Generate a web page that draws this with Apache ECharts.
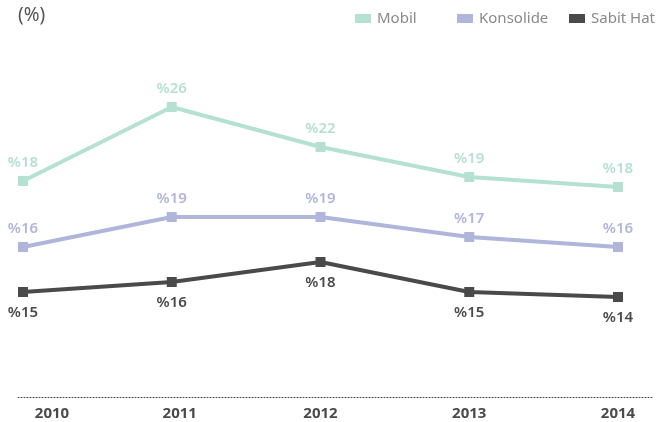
<!DOCTYPE html>
<html lang="tr">
<head>
  <meta charset="UTF-8">
  <title>mobil-konsolide-sabit</title>
  <script src="https://cdn.jsdelivr.net/npm/echarts@6/dist/echarts.min.js"></script>
  <style>
    html, body { margin: 0; padding: 0; background: #fff; }
    #main { width: 659px; height: 422px; }
  </style>
</head>
<body>
<div id="main"></div>
<script>
  // veriler
  var years = ['2010', '2011', '2012', '2013', '2014'];
  var mobil = [18.6, 26, 22, 19, 18];
  var konsolide = [16, 19, 19, 17, 16];
  var sabitHat = [15, 16, 18, 15, 14.5];
  var mobilLabels = ['%18', '%26', '%22', '%19', '%18'];
  var konsolideLabels = ['%16', '%19', '%19', '%17', '%16'];
  var sabitHatLabels = ['%15', '%16', '%18', '%15', '%14'];

  var mobilColor = '#b5e1d3';
  var konsolideColor = '#b0b5dc';
  var sabitColor = '#4a4a4a';
  var font = 'Noto Sans';

  var myChart = echarts.init(document.getElementById('main'));

  function lineSeries(name, data, labels, color, yIndex, pos, dist) {
    return {
      name: name,
      type: 'line',
      xAxisIndex: 0,
      yAxisIndex: yIndex,
      data: data,
      symbol: 'rect',
      symbolSize: 10,
      lineStyle: { color: color, width: 4 },
      itemStyle: { color: color },
      label: {
        show: true,
        position: pos,
        distance: dist,
        color: color,
        fontFamily: font,
        fontSize: 15,
        fontWeight: 600,
        formatter: function (p) { return labels[p.dataIndex]; }
      }
    };
  }

  function legendAt(name, left) {
    return {
      data: [name],
      left: left,
      top: 6,
      itemWidth: 16,
      itemHeight: 9,
      icon: 'rect',
      textStyle: { color: '#8a8a8a', fontFamily: font, fontSize: 15, padding: [0, 0, 0, 1] }
    };
  }

  myChart.setOption({
    backgroundColor: '#fff',
    animation: false,
    title: {
      text: '(%)',
      left: 13,
      top: 1,
      textStyle: { color: '#555', fontFamily: font, fontSize: 19, fontWeight: 'normal' }
    },
    legend: [
      legendAt('Mobil', 350),
      legendAt('Konsolide', 452),
      legendAt('Sabit Hat', 564)
    ],
    grid: [
      { left: 23, right: 41, top: 57, bottom: 25 },
      { left: 18, right: 6, top: 57, bottom: 25 }
    ],
    xAxis: [
      {
        type: 'category',
        gridIndex: 0,
        data: years,
        boundaryGap: false,
        axisLine: { show: false },
        axisTick: { show: false },
        splitLine: { show: false },
        axisLabel: {
          margin: 9,
          formatter: function (v, i) {
            if (i === 0) return '{a|' + v + '}';
            if (i === 1) return '{b|' + v + '}';
            return '{c|' + v + '}';
          },
          rich: {
            a: { color: '#4a4a4a', fontFamily: font, fontSize: 15, fontWeight: 'bold', padding: [0, 0, 0, 58] },
            b: { color: '#4a4a4a', fontFamily: font, fontSize: 15, fontWeight: 'bold', padding: [0, 0, 0, 16] },
            c: { color: '#4a4a4a', fontFamily: font, fontSize: 15, fontWeight: 'bold' }
          }
        }
      },
      {
        type: 'value',
        gridIndex: 1,
        min: 0,
        max: 1,
        axisLine: { show: true, lineStyle: { color: '#444', type: [1, 2], width: 1 } },
        axisTick: { show: false },
        axisLabel: { show: false },
        splitLine: { show: false }
      }
    ],
    yAxis: [
      { type: 'value', gridIndex: 0, min: -3, max: 31, show: false },
      { type: 'value', gridIndex: 0, min: 1, max: 35, show: false },
      { type: 'value', gridIndex: 0, min: 4.5, max: 38.5, show: false },
      { type: 'value', gridIndex: 1, min: 0, max: 1, show: false }
    ],
    series: [
      lineSeries('Mobil', mobil, mobilLabels, mobilColor, 0, 'top', 6),
      lineSeries('Konsolide', konsolide, konsolideLabels, konsolideColor, 1, 'top', 6),
      lineSeries('Sabit Hat', sabitHat, sabitHatLabels, sabitColor, 2, 'bottom', 8)
    ]
  });
</script>
</body>
</html>
